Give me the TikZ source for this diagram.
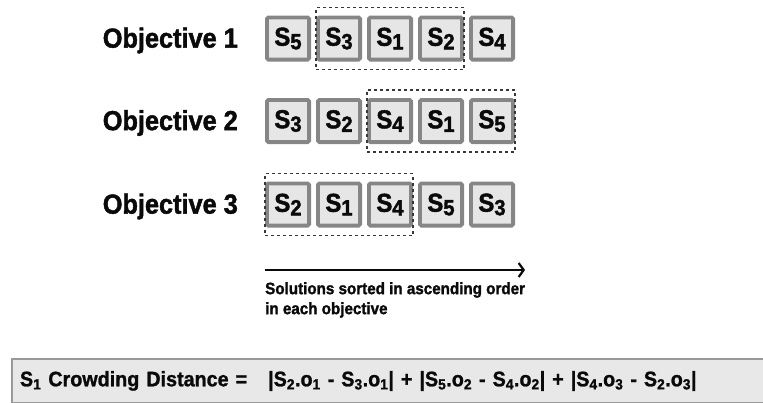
\documentclass[tikz,border=0pt]{standalone}
\usepackage{fontspec}
\setmainfont{Liberation Sans}[FakeStretch=0.92, BoldFeatures={FakeBold=1.6}]
\newfontfamily\narrowfont{Liberation Sans}[FakeStretch=0.94, BoldFeatures={FakeBold=1.2}]
\usetikzlibrary{arrows.meta,positioning,fit}
\definecolor{cellfill}{HTML}{E6E6E6}
\definecolor{celledge}{HTML}{868686}
\definecolor{groupedge}{HTML}{383838}
\definecolor{barfill}{HTML}{E8E8E8}
\definecolor{baredge}{HTML}{999999}
\definecolor{ink}{HTML}{0A0A0A}
% solution label with a large, lowered index
\newcommand{\sol}[1]{S\raisebox{-3.5pt}{\fontsize{22}{22}\selectfont #1}}
\tikzset{
  cell/.style     = {draw=celledge, fill=cellfill, line width=3.8pt, rounded corners=1.5pt,
                     minimum size=42.2pt, inner sep=0pt, text=ink,
                     font=\fontsize{26}{26}\selectfont\bfseries},
  objlabel/.style = {inner sep=0pt, text=ink, font=\fontsize{27.5}{27.5}\selectfont\bfseries},
  group/.style    = {draw=groupedge, dash pattern=on 3pt off 3pt, line width=1.8pt,
                     inner xsep=0pt, inner ysep=8pt},
  sortarrow/.style= {-{Straight Barb[length=5pt,width=14pt]}, draw=ink, line width=2.2pt},
  note/.style     = {inner sep=0pt, align=left, text=ink,
                     font=\fontsize{16.5}{20}\selectfont\bfseries},
  formula/.style  = {draw=baredge, fill=barfill, line width=2pt, inner xsep=8pt,
                     minimum height=44pt, text width=760pt, align=left, text=ink,
                     font=\narrowfont\fontsize{21}{21}\selectfont\bfseries},
}

\begin{document}
\begin{tikzpicture}[x=1pt,y=-1pt]
    \clip (0,0) rectangle (763,402);

    % objective 1
    \node[cell] (o1c1) at (288,38.5) {\sol{5}};
    \node[cell,right=5pt of o1c1] (o1c2) {\sol{3}};
    \node[cell,right=5pt of o1c2] (o1c3) {\sol{1}};
    \node[cell,right=5pt of o1c3] (o1c4) {\sol{2}};
    \node[cell,right=5pt of o1c4] (o1c5) {\sol{4}};
    \node[objlabel,left=27pt of o1c1,yshift=-2pt] (obj1) {Objective 1};
    \node[group,fit=(o1c2)(o1c4)] (o1grp) {};

    % objective 2
    \node[cell] (o2c1) at (288,121) {\sol{3}};
    \node[cell,right=5pt of o2c1] (o2c2) {\sol{2}};
    \node[cell,right=5pt of o2c2] (o2c3) {\sol{4}};
    \node[cell,right=5pt of o2c3] (o2c4) {\sol{1}};
    \node[cell,right=5pt of o2c4] (o2c5) {\sol{5}};
    \node[objlabel,left=27pt of o2c1,yshift=-2pt] (obj2) {Objective 2};
    \node[group,fit=(o2c3)(o2c5)] (o2grp) {};

    % objective 3
    \node[cell] (o3c1) at (288,204.5) {\sol{2}};
    \node[cell,right=5pt of o3c1] (o3c2) {\sol{1}};
    \node[cell,right=5pt of o3c2] (o3c3) {\sol{4}};
    \node[cell,right=5pt of o3c3] (o3c4) {\sol{5}};
    \node[cell,right=5pt of o3c4] (o3c5) {\sol{3}};
    \node[objlabel,left=27pt of o3c1,yshift=-2pt] (obj3) {Objective 3};
    \node[group,fit=(o3c1)(o3c3)] (o3grp) {};

    % sorting direction
    \coordinate (sortstart) at (265,270);
    \coordinate (sortend) at (525,270);
    \draw[sortarrow] (sortstart) -- (sortend);
    \node[note,below right=12pt and 0pt of sortstart] (sortnote)
      {Solutions sorted in ascending order\\in each objective};

    % distance of S1
    \node[formula,anchor=north west] (crowd) at (11,358)
      {S\textsubscript{1} Crowding Distance =\ \ \ |S\textsubscript{2}.o\textsubscript{1} - S\textsubscript{3}.o\textsubscript{1}| + |S\textsubscript{5}.o\textsubscript{2} - S\textsubscript{4}.o\textsubscript{2}| + |S\textsubscript{4}.o\textsubscript{3} - S\textsubscript{2}.o\textsubscript{3}|};
  \end{tikzpicture}
\end{document}
